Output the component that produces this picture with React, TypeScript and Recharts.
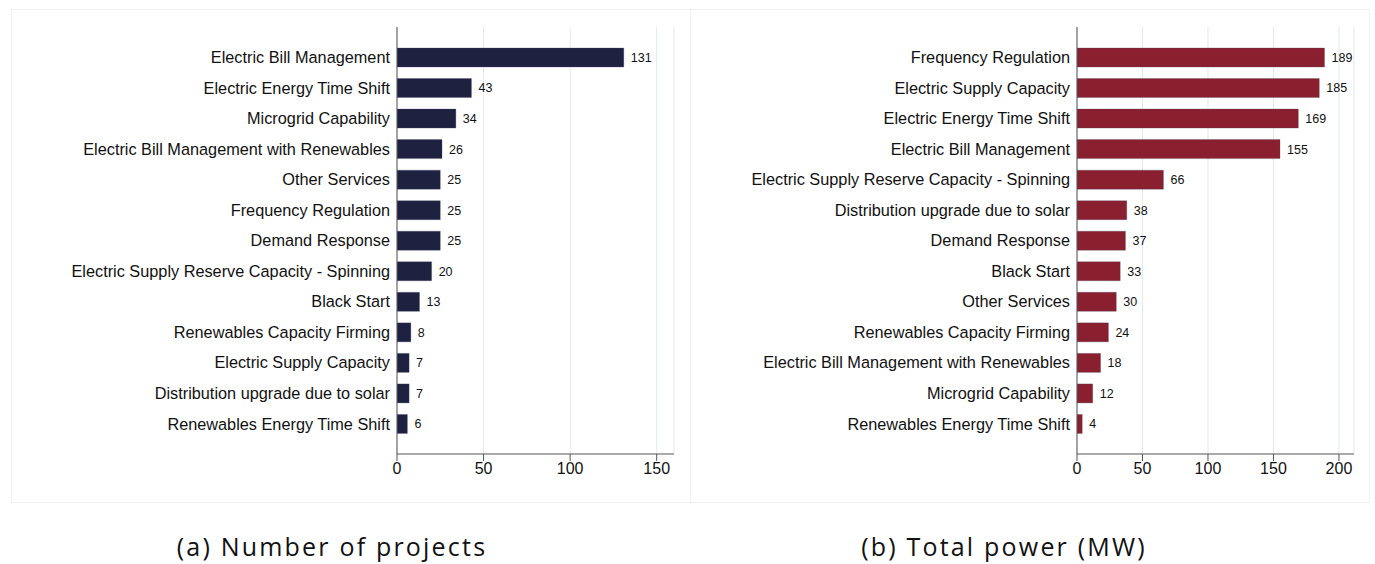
// Two horizontal bar panels: storage projects by service (count, and total MW).
import { BarChart, Bar, XAxis, YAxis, CartesianGrid, LabelList } from "recharts";

const PROJECT_SERVICES = [
  "Electric Bill Management",
  "Electric Energy Time Shift",
  "Microgrid Capability",
  "Electric Bill Management with Renewables",
  "Other Services",
  "Frequency Regulation",
  "Demand Response",
  "Electric Supply Reserve Capacity - Spinning",
  "Black Start",
  "Renewables Capacity Firming",
  "Electric Supply Capacity",
  "Distribution upgrade due to solar",
  "Renewables Energy Time Shift",
];
const PROJECT_COUNTS = [131, 43, 34, 26, 25, 25, 25, 20, 13, 8, 7, 7, 6];
const PROJECT_TICKS = [0, 50, 100, 150];

const POWER_SERVICES = [
  "Frequency Regulation",
  "Electric Supply Capacity",
  "Electric Energy Time Shift",
  "Electric Bill Management",
  "Electric Supply Reserve Capacity - Spinning",
  "Distribution upgrade due to solar",
  "Demand Response",
  "Black Start",
  "Other Services",
  "Renewables Capacity Firming",
  "Electric Bill Management with Renewables",
  "Microgrid Capability",
  "Renewables Energy Time Shift",
];
const POWER_MW = [189, 185, 169, 155, 66, 38, 37, 33, 30, 24, 18, 12, 4];
const POWER_TICKS = [0, 50, 100, 150, 200];

const FONT = "'Liberation Sans', Arial, Helvetica, sans-serif";

function Panel({
  names,
  values,
  ticks,
  max,
  color,
  yWidth,
  right,
}: {
  names: string[];
  values: number[];
  ticks: number[];
  max: number;
  color: string;
  yWidth: number;
  right: number;
}) {
  const data = names.map((name, i) => ({ name, value: values[i] }));
  return (
    <BarChart
      width={678}
      height={494}
      data={data}
      layout="vertical"
      margin={{ top: 18, right, bottom: 19, left: 0 }}
      style={{ fontFamily: FONT }}
    >
      <CartesianGrid stroke="#e2e8ee" horizontal={false} />
      <XAxis
        type="number"
        domain={[0, max]}
        ticks={ticks}
        allowDataOverflow
        stroke="#555"
        tickSize={7}
        tickMargin={2}
        height={30}
        tick={{ fill: "#111", fontSize: 16 }}
      />
      <YAxis
        type="category"
        dataKey="name"
        width={yWidth}
        stroke="#555"
        tickLine={false}
        tickSize={0}
        tickMargin={7}
        padding={{ top: 15, bottom: 15 }}
        interval={0}
        tick={{ fill: "#111", fontSize: 16.3 }}
      />
      <Bar dataKey="value" fill={color} stroke="#4a4a66" strokeWidth={0.3} barSize={19} isAnimationActive={false}>
        <LabelList dataKey="value" position="right" offset={7} fill="#111" fontSize={12.5} />
      </Bar>
    </BarChart>
  );
}

const captionStyle = {
  position: "absolute" as const,
  width: 440,
  top: 529,
  textAlign: "center" as const,
  fontFamily: "'Open Sans', 'Noto Sans', sans-serif",
  fontSize: 25,
  letterSpacing: 2.2,
  color: "#111",
  lineHeight: "34px",
  whiteSpace: "nowrap" as const,
};

export default function App() {
  return (
    <div
      style={{
        position: "absolute",
        left: 0,
        top: 0,
        width: 1375,
        height: 564,
        background: "#fff",
        overflow: "hidden",
      }}
    >
      <div
        style={{
          position: "absolute",
          left: 11,
          top: 9,
          width: 1359,
          height: 494,
          border: "1px solid #edf1f3",
          boxSizing: "border-box",
        }}
      />
      <div style={{ position: "absolute", left: 690, top: 9, width: 1, height: 494, background: "#edf1f3" }} />
      <div style={{ position: "absolute", left: 11, top: 9 }}>
        <Panel names={PROJECT_SERVICES} values={PROJECT_COUNTS} ticks={PROJECT_TICKS} max={160} color="#1f2141" yWidth={386} right={15} />
      </div>
      <div style={{ position: "absolute", left: 692, top: 9 }}>
        <Panel names={POWER_SERVICES} values={POWER_MW} ticks={POWER_TICKS} max={211.5} color="#8a1f2f" yWidth={385} right={16} />
      </div>
      <div style={{ ...captionStyle, left: 112 }}>(a) Number of projects</div>
      <div style={{ ...captionStyle, left: 784 }}>(b) Total power (MW)</div>
    </div>
  );
}
